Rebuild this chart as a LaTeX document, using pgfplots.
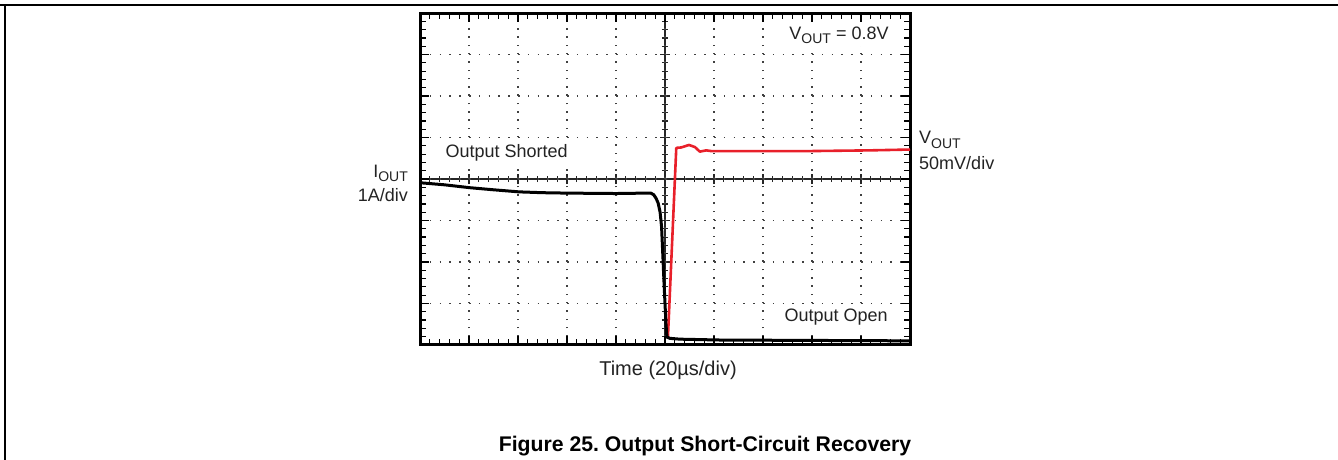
\documentclass[border=0pt]{standalone}
\usepackage{fontspec}
\setmainfont{Liberation Sans}
\usepackage{pgfplots}
\pgfplotsset{compat=1.18}
\definecolor{trred}{RGB}{232,32,42}
\definecolor{txt}{RGB}{35,35,35}
\newcommand\sub[1]{\raisebox{-0.45ex}{\fontsize{7}{8}\selectfont #1}}
\frenchspacing
\begin{document}
\begin{tikzpicture}
\path[use as bounding box] (0pt,0pt) rectangle (669pt,230pt);
\draw[line width=0.65pt] (0pt,227.5pt) -- (669pt,227.5pt);
\draw[line width=0.65pt] (2.5pt,227.5pt) -- (2.5pt,0pt);
% centre cross with ticks
\begin{axis}[at={(210pt,57.5pt)}, anchor=south west, scale only axis,
  width=245pt, height=166pt, xmin=-5, xmax=5, ymin=-4, ymax=4,
  axis lines=middle, axis line style={-, line width=0.6pt, black!85},
  xtick={-4,...,4}, ytick={-3,...,3},
  minor xtick={-4.8,-4.6,...,4.8}, minor ytick={-3.8,-3.6,...,3.8},
  xticklabels={}, yticklabels={},
  tick align=center, major tick length=5pt, minor tick length=3.2pt,
  every tick/.style={black!85, line width=0.6pt}]
\end{axis}
% main frame, grid and traces
\begin{axis}[at={(210pt,57.5pt)}, anchor=south west, scale only axis,
  width=245pt, height=166pt, xmin=0, xmax=10, ymin=0, ymax=8,
  xtick={0,...,10}, ytick={0,...,8}, minor x tick num=4, minor y tick num=4,
  xticklabels={}, yticklabels={},
  tick align=inside, major tick length=4.5pt, minor tick length=3pt,
  every tick/.style={black, line width=0.6pt},
  axis line style={line width=1.5pt},
  grid=major,
  major x grid style={black!75, line width=0.75pt, dash pattern=on 0.75pt off 3.4pt},
  major y grid style={black!75, line width=0.75pt, dash pattern=on 0.75pt off 4.15pt},
  clip=false]
\addplot[trred, line width=1.3pt, line join=round] coordinates {
 (5.06,0.19) (5.23,4.75) (5.33,4.76) (5.49,4.82) (5.61,4.77) (5.71,4.66)
 (5.84,4.69) (5.96,4.67) (7.76,4.67) (9.18,4.69) (10,4.71)};
\addplot[black, line width=1.5pt, line join=round] coordinates {
 (0,3.91) (0.5,3.86) (1.02,3.79) (1.5,3.74) (2.02,3.69) (2.5,3.67) (3,3.66)
 (4,3.65) (4.6,3.66) (4.71,3.66) (4.77,3.62) (4.82,3.53) (4.86,3.42) (4.9,3.2)
 (4.93,2.85) (4.96,2.05) (4.98,1.5) (5.0,1.0) (5.02,0.5) (5.04,0.19) (5.1,0.16)
 (5.31,0.14) (6.12,0.12) (8,0.11) (10,0.1)};
\node[text=txt, fill=white, inner sep=1.2pt, font=\fontsize{9}{10}\selectfont] at (axis cs:1.77,4.63) {Output Shorted};
\node[text=txt, fill=white, inner sep=1.2pt, font=\fontsize{9}{10}\selectfont, anchor=east] at (axis cs:9.62,7.47) {V\sub{OUT} = 0.8V};
\node[text=txt, fill=white, inner sep=1.2pt, font=\fontsize{9}{10}\selectfont, anchor=east] at (axis cs:9.6,0.67) {Output Open};
\node[text=txt, font=\fontsize{9}{10}\selectfont, anchor=east, inner xsep=0pt] at (axis cs:-0.24,4.14) {I\sub{OUT}};
\node[text=txt, font=\fontsize{9}{10}\selectfont, anchor=east, inner xsep=0pt] at (axis cs:-0.24,3.61) {1A/div};
\node[text=txt, font=\fontsize{9}{10}\selectfont, anchor=west, inner xsep=0pt] at (axis cs:10.18,4.94) {V\sub{OUT}};
\node[text=txt, font=\fontsize{9}{10}\selectfont, anchor=west, inner xsep=0pt] at (axis cs:10.18,4.39) {50mV/div};
\end{axis}
\node[text=txt, font=\fontsize{10}{12}\selectfont] at (334pt,45pt) {Time (20µs/div)};
\node[font=\fontsize{10.6}{12}\selectfont\bfseries, anchor=base] at (352.5pt,4pt) {Figure 25. Output Short-Circuit Recovery};
\end{tikzpicture}
\end{document}
